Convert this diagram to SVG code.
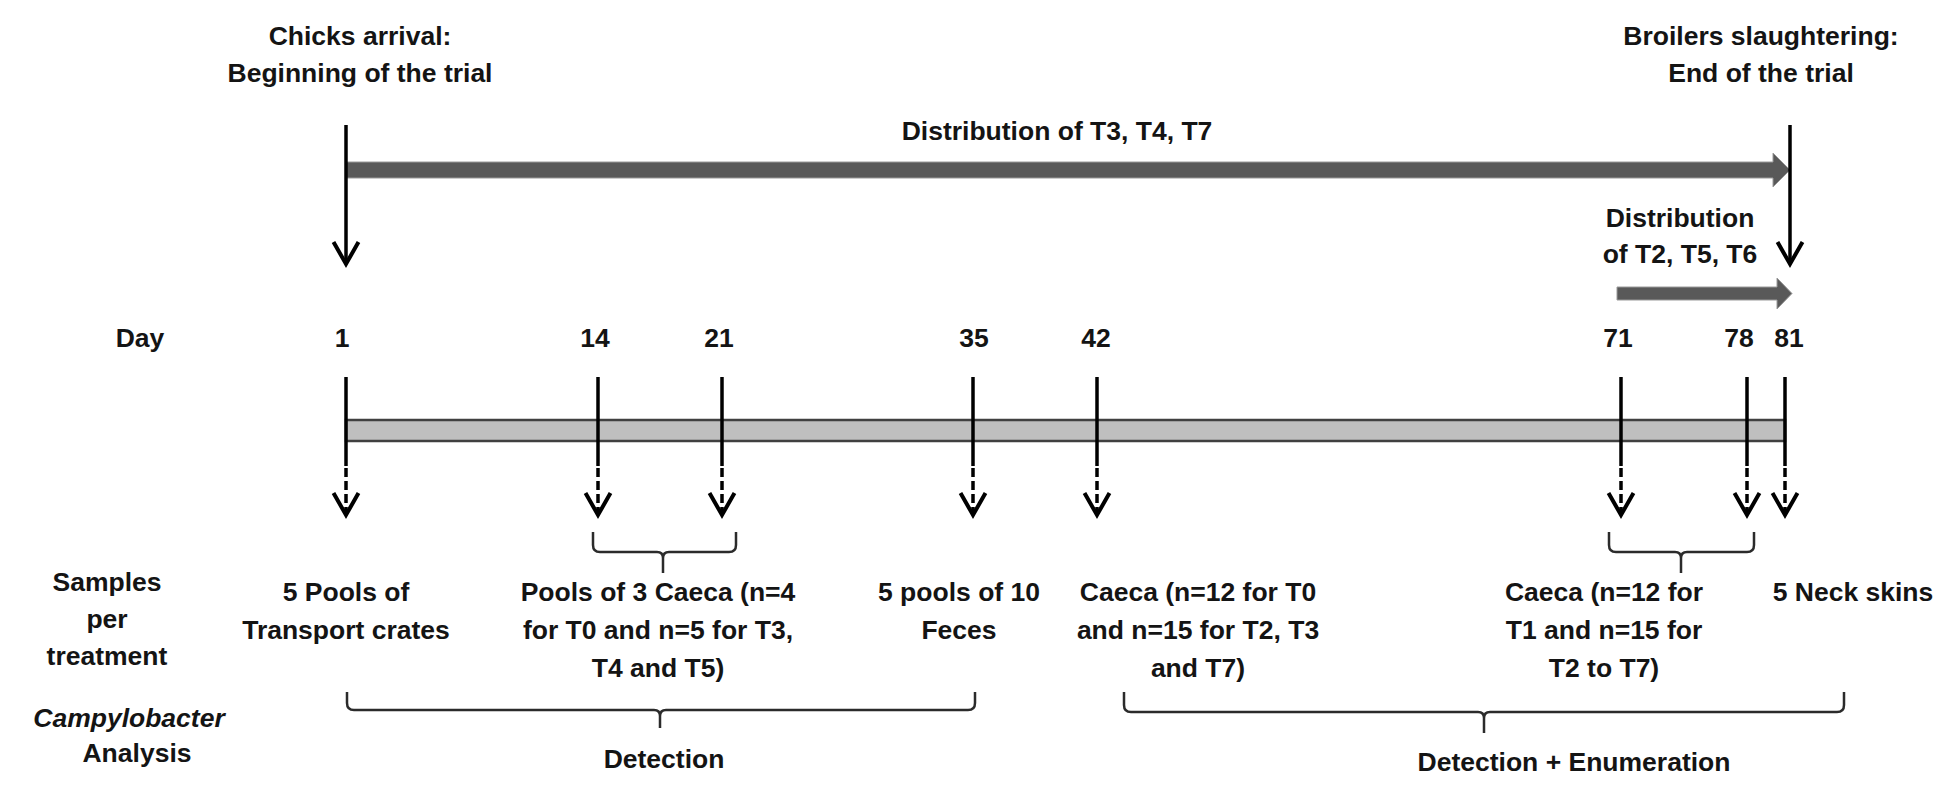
<svg xmlns="http://www.w3.org/2000/svg" width="1950" height="809" viewBox="0 0 1950 809">
<defs>
<style>
.t{font-family:"Liberation Sans",Arial,sans-serif;font-weight:bold;font-size:26.5px;fill:#141414;text-anchor:middle}
.it{font-style:italic}
.v{stroke:#000;stroke-width:3.5;fill:none}
.d{stroke:#000;stroke-width:3.5;fill:none;stroke-dasharray:9 4}
.br{stroke:#2b2b2b;stroke-width:2.5;fill:none;stroke-linejoin:round}
.bigarrow{fill:#595959;stroke:#9a9a9a;stroke-width:1}
</style>
<marker id="chev" markerUnits="userSpaceOnUse" markerWidth="40" markerHeight="40" viewBox="-30 -20 40 40" refX="0" refY="0" orient="auto">
<path d="M-22,-12.5 L0,0 L-22,12.5" fill="none" stroke="#000" stroke-width="4" stroke-linejoin="miter"/>
</marker>
</defs>
<rect width="1950" height="809" fill="#fff"/>

<g id="connectors">
<path class="bigarrow" d="M346,162 H1773 V153 L1790,170 L1773,187 V178 H346 Z"/>
<path class="bigarrow" d="M1617,287 H1777 V278 L1792,293.5 L1777,309 V300 H1617 Z"/>
<line class="v" x1="346" y1="125" x2="346" y2="264" marker-end="url(#chev)"/>
<line class="v" x1="1790" y1="125" x2="1790" y2="264" marker-end="url(#chev)"/>
<rect x="346" y="420" width="1439" height="21" fill="#bfbfbf" stroke="#404040" stroke-width="2.5"/>
<g id="ticks">
<line class="v" x1="346" y1="377" x2="346" y2="466"/><line class="d" x1="346" y1="468" x2="346" y2="515" marker-end="url(#chev)"/>
<line class="v" x1="598" y1="377" x2="598" y2="466"/><line class="d" x1="598" y1="468" x2="598" y2="515" marker-end="url(#chev)"/>
<line class="v" x1="722" y1="377" x2="722" y2="466"/><line class="d" x1="722" y1="468" x2="722" y2="515" marker-end="url(#chev)"/>
<line class="v" x1="973" y1="377" x2="973" y2="466"/><line class="d" x1="973" y1="468" x2="973" y2="515" marker-end="url(#chev)"/>
<line class="v" x1="1097" y1="377" x2="1097" y2="466"/><line class="d" x1="1097" y1="468" x2="1097" y2="515" marker-end="url(#chev)"/>
<line class="v" x1="1621" y1="377" x2="1621" y2="466"/><line class="d" x1="1621" y1="468" x2="1621" y2="515" marker-end="url(#chev)"/>
<line class="v" x1="1747" y1="377" x2="1747" y2="466"/><line class="d" x1="1747" y1="468" x2="1747" y2="515" marker-end="url(#chev)"/>
<line class="v" x1="1785" y1="377" x2="1785" y2="466"/><line class="d" x1="1785" y1="468" x2="1785" y2="515" marker-end="url(#chev)"/>
</g>
<g id="braces">
<path class="br" d="M593,532 V545 Q593,552 600,552 H657 Q663,552 663,558 V573 M663,558 Q663,552 669,552 H729 Q736,552 736,545 V532"/>
<path class="br" d="M1609,532 V545 Q1609,552 1616,552 H1675 Q1681,552 1681,558 V573 M1681,558 Q1681,552 1687,552 H1747 Q1754,552 1754,545 V532"/>
<path class="br" d="M347,692 V703 Q347,710 354,710 H654 Q660,710 660,716 V728 M660,716 Q660,710 666,710 H968 Q975,710 975,703 V692"/>
<path class="br" d="M1124,692 V705 Q1124,712 1131,712 H1478 Q1484,712 1484,718 V733 M1484,718 Q1484,712 1490,712 H1837 Q1844,712 1844,705 V692"/>
</g>
</g>

<g id="start-label"><text class="t"><tspan x="360" y="45">Chicks arrival:</tspan><tspan x="360" y="82">Beginning of the trial</tspan></text></g>
<g id="end-label"><text class="t"><tspan x="1761" y="45">Broilers slaughtering:</tspan><tspan x="1761" y="82">End of the trial</tspan></text></g>
<g id="dist-t3-t4-t7"><text class="t" x="1057" y="140">Distribution of T3, T4, T7</text></g>
<g id="dist-t2-t5-t6"><text class="t"><tspan x="1680" y="227">Distribution</tspan><tspan x="1680" y="263">of T2, T5, T6</tspan></text></g>

<g id="days">
<text class="t" x="140" y="347">Day</text>
<text class="t" x="342" y="347">1</text>
<text class="t" x="595" y="347">14</text>
<text class="t" x="719" y="347">21</text>
<text class="t" x="974" y="347">35</text>
<text class="t" x="1096" y="347">42</text>
<text class="t" x="1618" y="347">71</text>
<text class="t" x="1739" y="347">78</text>
<text class="t" x="1789" y="347">81</text>
</g>

<g id="samples-label"><text class="t"><tspan x="107" y="591">Samples</tspan><tspan x="107" y="628">per</tspan><tspan x="107" y="665">treatment</tspan></text></g>
<g id="s-day1"><text class="t"><tspan x="346" y="601">5 Pools of</tspan><tspan x="346" y="639">Transport crates</tspan></text></g>
<g id="s-day14-21"><text class="t"><tspan x="658" y="601">Pools of 3 Caeca (n=4</tspan><tspan x="658" y="639">for T0 and n=5 for T3,</tspan><tspan x="658" y="677">T4 and T5)</tspan></text></g>
<g id="s-day35"><text class="t"><tspan x="959" y="601">5 pools of 10</tspan><tspan x="959" y="639">Feces</tspan></text></g>
<g id="s-day42"><text class="t"><tspan x="1198" y="601">Caeca (n=12 for T0</tspan><tspan x="1198" y="639">and n=15 for T2, T3</tspan><tspan x="1198" y="677">and T7)</tspan></text></g>
<g id="s-day71-78"><text class="t"><tspan x="1604" y="601">Caeca (n=12 for</tspan><tspan x="1604" y="639">T1 and n=15 for</tspan><tspan x="1604" y="677">T2 to T7)</tspan></text></g>
<g id="s-day81"><text class="t" x="1853" y="601">5 Neck skins</text></g>

<g id="analysis-label"><text class="t"><tspan class="it" x="129" y="727">Campylobacter</tspan><tspan x="137" y="762">Analysis</tspan></text></g>
<g id="detection"><text class="t" x="664" y="768">Detection</text></g>
<g id="detection-enum"><text class="t" x="1574" y="771">Detection + Enumeration</text></g>
</svg>
